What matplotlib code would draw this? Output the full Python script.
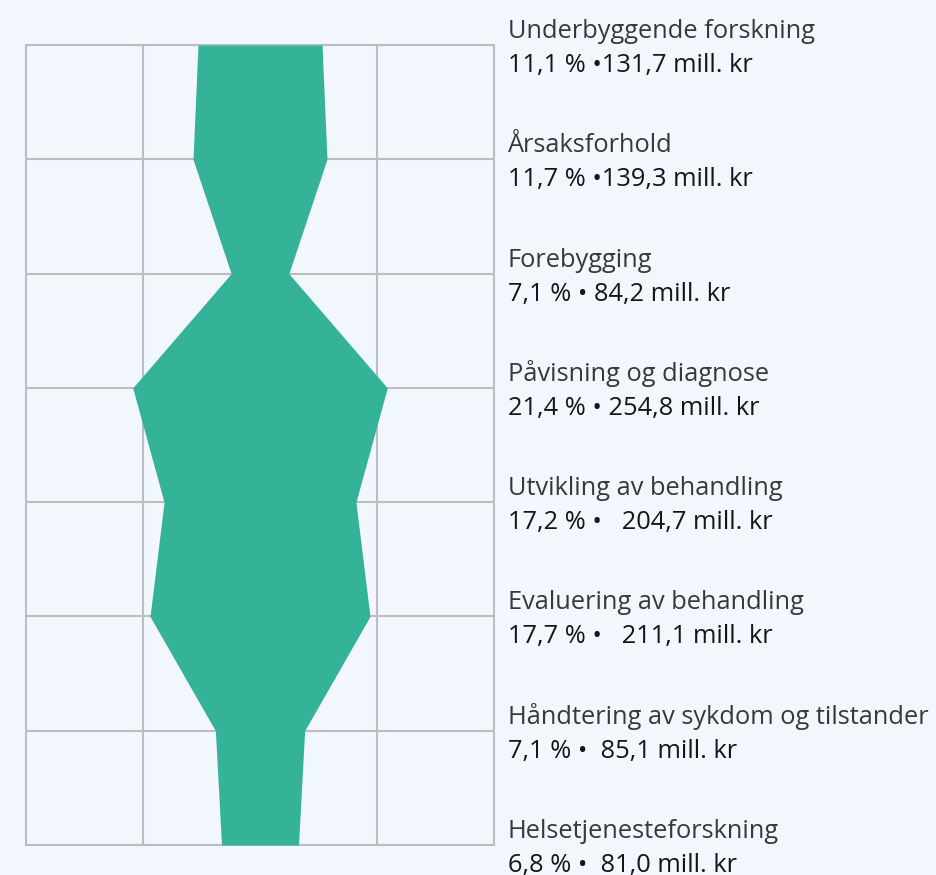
import matplotlib
matplotlib.use("Agg")
import matplotlib.pyplot as plt
import matplotlib.transforms as mtransforms

categories = [
    "Underbyggende forskning",
    "Årsaksforhold",
    "Forebygging",
    "Påvisning og diagnose",
    "Utvikling av behandling",
    "Evaluering av behandling",
    "Håndtering av sykdom og tilstander",
    "Helsetjenesteforskning",
]
value_labels = [
    "11,1 % •131,7 mill. kr",
    "11,7 % •139,3 mill. kr",
    "7,1 % • 84,2 mill. kr",
    "21,4 % • 254,8 mill. kr",
    "17,2 % •   204,7 mill. kr",
    "17,7 % •   211,1 mill. kr",
    "7,1 % •  85,1 mill. kr",
    "6,8 % •  81,0 mill. kr",
]
# full width of the shape at each category, in percent units
shape_width = [10.6, 11.45, 4.93, 21.76, 16.4, 18.8, 7.63, 6.58]

BG = "#f2f6fd"
FILL = "#35b398"
GRID = "#bdbdbd"
NAME_C = "#383838"
VAL_C = "#151515"

W, H = 936, 875
fig = plt.figure(figsize=(W / 100, H / 100), dpi=100, facecolor=BG)
ax = fig.add_axes([26 / W, (H - 845) / H, 468 / W, 800 / H], facecolor=BG)

ys = list(range(len(categories)))
half = [w / 2 for w in shape_width]
ax.fill_betweenx(ys, [-h for h in half], half, color=FILL, lw=0, zorder=3)

ax.set_xlim(-20, 20)
ax.set_ylim(len(categories) - 1, 0)
ax.set_xticks([-20, -10, 0, 10, 20])
ax.set_yticks(ys)
ax.grid(True, color=GRID, lw=1.5, zorder=1)
ax.set_axisbelow(True)
ax.tick_params(length=0, labelbottom=False, labelleft=False)
for s in ax.spines.values():
    s.set_color(GRID)
    s.set_linewidth(1.5)
    s.set_zorder(1)

blend = mtransforms.blended_transform_factory(fig.transFigure, ax.transData)
x_text = 508 / W
FS = 18.3
for i, (name, val) in enumerate(zip(categories, value_labels)):
    t1 = blend + mtransforms.ScaledTranslation(0, 7 / 100, fig.dpi_scale_trans)
    t2 = blend + mtransforms.ScaledTranslation(0, -27 / 100, fig.dpi_scale_trans)
    fig.text(x_text, i, name, transform=t1, ha="left", va="baseline",
             fontsize=FS, family="Open Sans", color=NAME_C)
    fig.text(x_text, i, val, transform=t2, ha="left", va="baseline",
             fontsize=FS, family="Open Sans", color=VAL_C)

fig.savefig("out.png", dpi=100, facecolor=BG)
